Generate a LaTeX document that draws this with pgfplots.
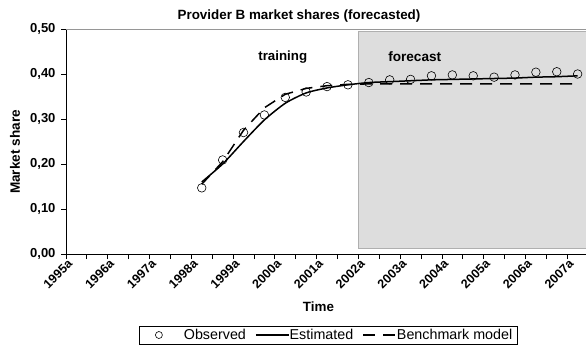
\documentclass[border=0pt]{standalone}
\usepackage{pgfplots}
\pgfplotsset{compat=1.18}
\usepackage{fontspec}
\setmainfont{Liberation Sans}
\definecolor{shade}{RGB}{221,221,221}
\definecolor{shadeedge}{RGB}{175,175,175}
\definecolor{topline}{RGB}{150,150,150}
\newcommand{\xl}[1]{\mbox{\bfseries\fontsize{12.5}{14}\selectfont #1}}
\begin{document}
\begin{tikzpicture}
\path[use as bounding box] (0pt,0pt) rectangle (586pt,-348pt);
\begin{axis}[
  at={(66pt,-254pt)}, anchor=south west,
  scale only axis, width=520pt, height=225pt,
  xmin=1995, xmax=2007.45, ymin=0, ymax=0.5,
  axis x line*=bottom, axis y line*=left,
  axis line style={black, line width=1pt, -},
  xtick={1995,1996,...,2007},
  xticklabels={\xl{1995a},\xl{1996a},\xl{1997a},\xl{1998a},\xl{1999a},\xl{2000a},\xl{2001a},\xl{2002a},\xl{2003a},\xl{2004a},\xl{2005a},\xl{2006a},\xl{2007a}},
  minor xtick={1995.5,1996.5,...,2006.5},
  ytick={0,0.1,0.2,0.3,0.4,0.5},
  tick align=outside, major tick length=5pt, minor tick length=5pt,
  every tick/.style={black, line width=0.8pt},
  minor tick style={black, line width=0.8pt},
  yticklabel style={/pgf/number format/.cd, fixed, fixed zerofill, precision=2, use comma, assume math mode=true,
    /tikz/.cd, font=\bfseries\fontsize{13}{15}\selectfont, xshift=-2pt},
  xticklabel style={rotate=45, anchor=east, xshift=2pt, yshift=-5pt, inner sep=1pt, font=\bfseries\fontsize{12.5}{14}\selectfont},
  legend style={at={(axis description cs:0.504,-0.36)}, anchor=center, legend columns=3,
    draw=black, line width=0.8pt, font=\fontsize{14.3}{16}\selectfont, inner xsep=5pt, inner ysep=1pt,
    nodes={inner xsep=0pt, inner ysep=2pt},
    /tikz/every even column/.style={column sep=0pt},
    /tikz/every odd column/.style={column sep=0pt}},
  legend cell align=left,
  clip=true,
]
\draw[fill=shade, draw=shadeedge, line width=0.8pt] (axis cs:2002,0.013) rectangle (axis cs:2008,0.494);
\draw[topline, line width=0.8pt] (rel axis cs:0,1) -- (rel axis cs:1,1);

\addplot[only marks, mark=o, mark size=4.3pt, mark options={black, line width=0.6pt},
  legend image code/.code={\path[draw=none] (0pt,0pt) -- (40pt,0pt); \path[draw=none] plot[mark=o, mark size=3.5pt, mark options={draw=black, line width=0.6pt}] coordinates {(15pt,0pt)};}] coordinates {
(1998.25,0.147) (1998.75,0.209) (1999.25,0.270) (1999.75,0.309) (2000.25,0.348)
(2000.75,0.360) (2001.25,0.372) (2001.75,0.376) (2002.25,0.381) (2002.75,0.387)
(2003.25,0.388) (2003.75,0.396) (2004.25,0.398) (2004.75,0.396) (2005.25,0.393)
(2005.75,0.398) (2006.25,0.404) (2006.75,0.405) (2007.25,0.400)
};
\addlegendentry{Observed}

\addplot[black, line width=1.5pt, no marks, smooth, tension=0.4,
  legend image code/.code={\path[draw=none] (0pt,0pt) -- (43pt,0pt); \draw[black, line width=1.5pt, solid] (10pt,0pt) -- (43pt,0pt);}] coordinates {
(1998.25,0.160) (1998.75,0.200) (1999.25,0.250) (1999.75,0.298) (2000.25,0.335)
(2000.75,0.358) (2001.25,0.369) (2001.75,0.376) (2002.25,0.381) (2002.75,0.383)
(2003.25,0.385) (2003.75,0.387) (2004.25,0.388) (2004.75,0.389) (2005.25,0.390)
(2005.75,0.391) (2006.25,0.393) (2006.75,0.394) (2007.25,0.396)
};
\addlegendentry{Estimated}

\addplot[black, line width=1.5pt, no marks, dash pattern=on 12pt off 8pt,
  legend image code/.code={\path[draw=none] (0pt,0pt) -- (43pt,0pt); \draw[black, line width=1.5pt, dash pattern=on 12pt off 8pt] (10pt,0pt) -- (43pt,0pt);}] coordinates {
(1998.25,0.155) (1998.75,0.205) (1999.25,0.275) (1999.75,0.325) (2000.25,0.355)
(2000.75,0.368) (2001.25,0.374) (2001.75,0.377) (2002.25,0.378) (2002.75,0.378)
(2003.25,0.378) (2003.75,0.378) (2004.25,0.378) (2004.75,0.378) (2005.25,0.378)
(2005.75,0.378) (2006.25,0.378) (2006.75,0.378) (2007.25,0.378)
};
\addlegendentry{Benchmark model}

\node[font=\bfseries\fontsize{13.3}{15}\selectfont] at (axis cs:2000.19,0.438) {training};
\node[font=\bfseries\fontsize{13.6}{15}\selectfont] at (axis cs:2003.35,0.438) {forecast};
\end{axis}
\node[font=\bfseries\fontsize{13.4}{15}\selectfont] at (299pt,-16pt) {Provider B market shares (forecasted)};
\node[font=\bfseries\fontsize{13.4}{15}\selectfont] at (318.5pt,-307pt) {Time};
\node[font=\bfseries\fontsize{13.6}{15}\selectfont, rotate=90] at (15pt,-152pt) {Market share};
\end{tikzpicture}
\end{document}
